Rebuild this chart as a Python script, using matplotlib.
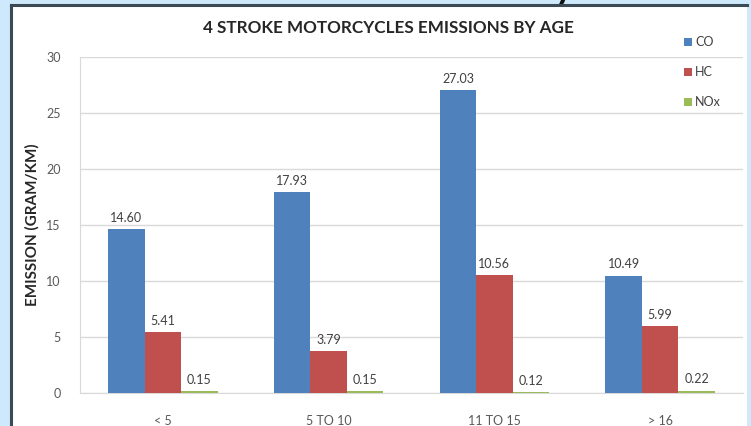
import numpy as np
import matplotlib
matplotlib.use("Agg")
import matplotlib.pyplot as plt
from matplotlib.patches import Rectangle
from matplotlib.lines import Line2D

plt.rcParams['font.family'] = ['Lato', 'DejaVu Sans']

categories = ["< 5", "5 TO 10", "11 TO 15", "> 16"]
co = [14.60, 17.93, 27.03, 10.49]
hc = [5.41, 3.79, 10.56, 5.99]
nox = [0.15, 0.15, 0.12, 0.22]

series = [("CO", co, "#4f81bd"), ("HC", hc, "#c0504d"), ("NOx", nox, "#9bbb59")]

W, H = 751, 426
fig = plt.figure(figsize=(W / 100, H / 100), dpi=100)
fig.patch.set_facecolor("#cde9fb")

# white chart panel, dark frame on top and left
panel = Rectangle((11 / W, -0.1), (747 - 11) / W, 1.1 - 5 / H, transform=fig.transFigure,
                  facecolor="white", edgecolor="none", zorder=-5)
fig.patches.append(panel)
fig.lines.append(Line2D([11 / W, 11 / W], [0, 1 - 5 / H], transform=fig.transFigure,
                        color="#3b4a55", linewidth=2.2, zorder=-4))
fig.lines.append(Line2D([11 / W, 747 / W], [1 - 5 / H, 1 - 5 / H], transform=fig.transFigure,
                        color="#3b4a55", linewidth=2.2, zorder=-4))

# descender of the slide heading cut off at the top
fig.text(555 / W, 1 + 2 / H, "y", fontsize=26, fontweight="bold", color="#111111",
         va="baseline", ha="left")

ax = fig.add_axes([80 / W, 1 - 393 / H, (743 - 80) / W, (393 - 57) / H])
ax.set_facecolor("none")

x = np.arange(len(categories))
w = 0.22
for i, (name, vals, col) in enumerate(series):
    bars = ax.bar(x + (i - 1) * w, vals, width=w, color=col, label=name, zorder=3)
    for b, v in zip(bars, vals):
        ax.text(b.get_x() + b.get_width() / 2, v + 0.45, f"{v:.2f}", ha="center", va="bottom",
                fontsize=9, color="#404040", zorder=4)

ax.set_xlim(-0.5, len(categories) - 0.5)
ax.set_ylim(0, 30)
ax.set_yticks(np.arange(0, 31, 5))
ax.set_xticks(x)
ax.set_xticklabels(categories)
ax.grid(axis="y", color="#d9d9d9", linewidth=1, zorder=0)
ax.tick_params(axis="both", length=0, labelsize=9, labelcolor="#595959")
ax.tick_params(axis="x", pad=16)
ax.tick_params(axis="y", pad=14)
for s in ["top", "right"]:
    ax.spines[s].set_visible(False)
for s in ["left", "bottom"]:
    ax.spines[s].set_color("#d9d9d9")

ax.set_ylabel("EMISSION (GRAM/KM)", fontsize=11, fontweight="bold", color="#262626", labelpad=5)

fig.text(388 / W, 1 - 28 / H, "4 STROKE MOTORCYCLES EMISSIONS BY AGE", ha="center", va="center",
         fontsize=12.3, fontweight="bold", color="#262626")

fig.legend(loc="upper left", bbox_to_anchor=(679 / W, 1 - 31 / H), frameon=False,
           fontsize=9, labelspacing=1.45, handlelength=0.6, handleheight=0.6,
           handletextpad=0.3, labelcolor="#404040", borderaxespad=0)

fig.savefig("out.png", dpi=100, facecolor=fig.get_facecolor())
